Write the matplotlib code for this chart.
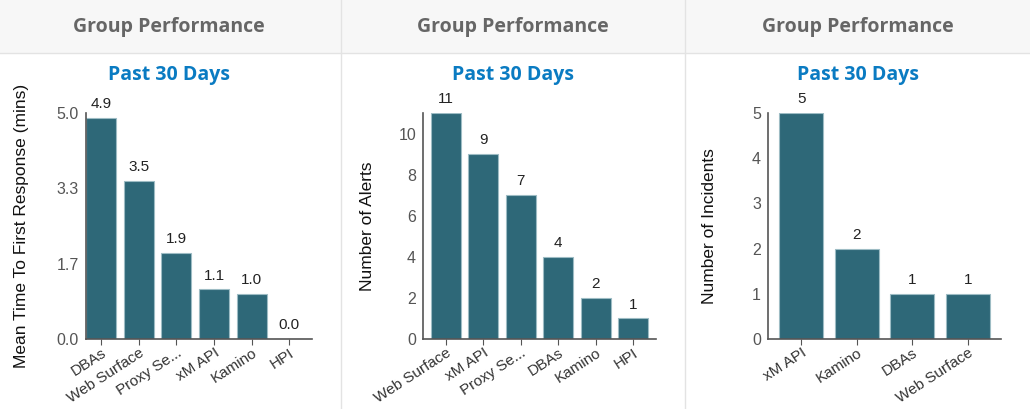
import matplotlib.pyplot as plt
from matplotlib.lines import Line2D
from matplotlib.patches import Rectangle

plt.rcParams['font.family'] = ['Liberation Sans', 'DejaVu Sans']

# data
mttr_groups = ['DBAs', 'Web Surface', 'Proxy Se...', 'xM API', 'Kamino', 'HPI']
mttr_values = [4.9, 3.5, 1.9, 1.1, 1.0, 0.0]

alert_groups = ['Web Surface', 'xM API', 'Proxy Se...', 'DBAs', 'Kamino', 'HPI']
alert_values = [11, 9, 7, 4, 2, 1]

incident_groups = ['xM API', 'Kamino', 'DBAs', 'Web Surface']
incident_values = [5, 2, 1, 1]

bar_color = '#2e6878'
W, H = 1030, 409

fig = plt.figure(figsize=(10.3, 4.09), dpi=100)
fig.patch.set_facecolor('white')

# header band and dividers
fig.add_artist(Rectangle((0, 1 - 53 / H), 1, 53 / H, transform=fig.transFigure,
                         facecolor='#f7f7f7', edgecolor='none', zorder=0))
fig.add_artist(Line2D([0, 1], [1 - 53 / H] * 2, transform=fig.transFigure,
                      color='#e3e3e3', lw=1))
for xd in [341, 685]:
    fig.add_artist(Line2D([xd / W] * 2, [0, 1], transform=fig.transFigure,
                          color='#e3e3e3', lw=1))

panels = [
    dict(left=86, width=226, cx=169, ylx=22, groups=mttr_groups, values=mttr_values,
         ylabel='Mean Time To First Response (mins)', ylim=5.0,
         yticks=[0, 5 / 3, 10 / 3, 5.0], fmt='{:.1f}', xlim=(-0.4, 5.6)),
    dict(left=423, width=233, cx=513, ylx=367, groups=alert_groups, values=alert_values,
         ylabel='Number of Alerts', ylim=11, yticks=[0, 2, 4, 6, 8, 10],
         fmt='{:d}', xlim=(-0.6, 5.6)),
    dict(left=768, width=233, cx=858, ylx=710, groups=incident_groups, values=incident_values,
         ylabel='Number of Incidents', ylim=5, yticks=[0, 1, 2, 3, 4, 5],
         fmt='{:d}', xlim=(-0.6, 3.6)),
]

for p in panels:
    ax = fig.add_axes([p['left'] / W, 1 - 339 / H, p['width'] / W, 226 / H])
    x = range(len(p['groups']))
    ax.bar(x, p['values'], width=0.8, color=bar_color, edgecolor='#9dbcc4', linewidth=0.8)
    for xi, v in zip(x, p['values']):
        ax.text(xi, v + p['ylim'] * 0.03, p['fmt'].format(v), ha='center', va='bottom',
                fontsize=11, color='#222222')
    ax.set_xlim(*p['xlim'])
    ax.set_ylim(0, p['ylim'])
    ax.set_yticks(p['yticks'])
    if p['fmt'] == '{:.1f}':
        ax.set_yticklabels(['{:.1f}'.format(t) for t in p['yticks']])
    ax.set_xticks(list(x))
    ax.set_xticklabels(p['groups'], rotation=33, ha='right', rotation_mode='anchor',
                       fontsize=11, color='#333333')
    ax.tick_params(axis='y', length=0, pad=5, labelsize=11.5, labelcolor='#555555')
    ax.tick_params(axis='x', length=4, color='#555555', pad=1)
    for s in ['top', 'right']:
        ax.spines[s].set_visible(False)
    for s in ['left', 'bottom']:
        ax.spines[s].set_color('#555555')
        ax.spines[s].set_linewidth(1.2)

    fig.text(p['cx'] / W, 1 - 27 / H, 'Group Performance', ha='center', va='center',
             fontsize=14, fontweight='bold', color='#666666', family=['Open Sans', 'DejaVu Sans'])
    fig.text(p['cx'] / W, 1 - 75 / H, 'Past 30 Days', ha='center', va='center',
             fontsize=14, fontweight='bold', color='#0a7bc2', family=['Open Sans', 'DejaVu Sans'])
    fig.text(p['ylx'] / W, 1 - 226 / H, p['ylabel'], ha='center', va='center',
             rotation=90, fontsize=12.5, color='#111111')

fig.savefig('out.png', dpi=100)
